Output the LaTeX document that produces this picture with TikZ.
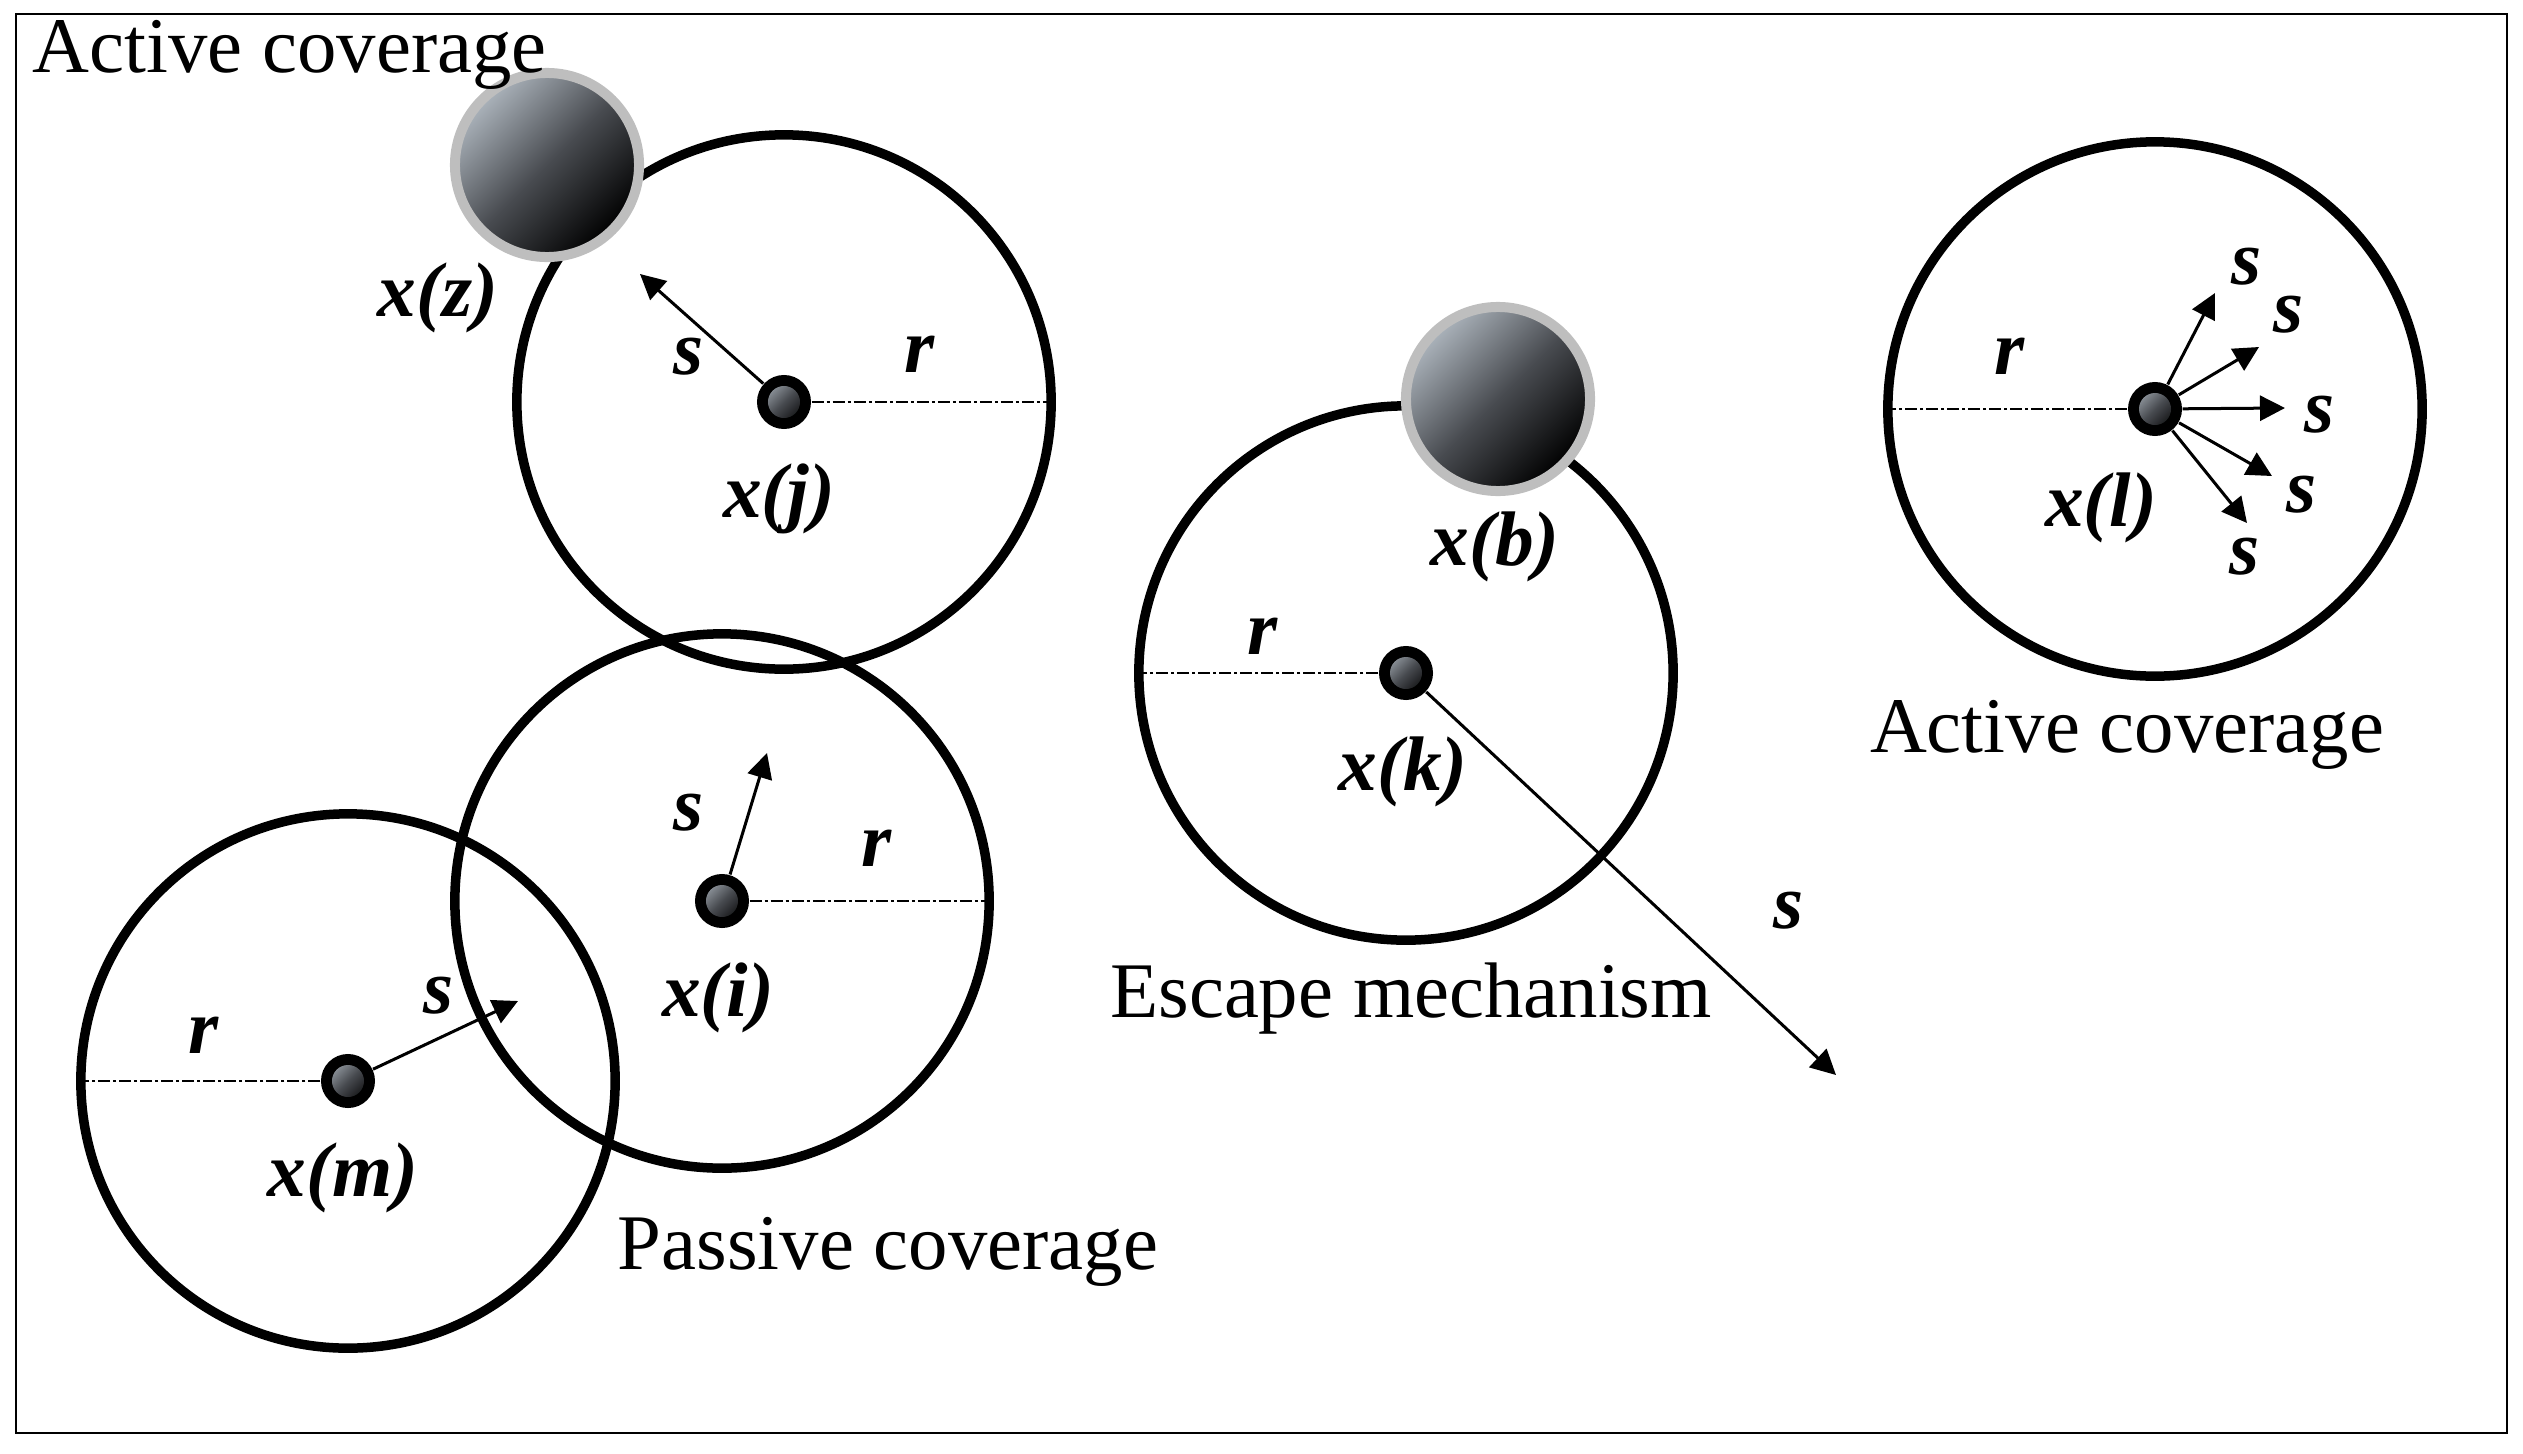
\documentclass[tikz,border=0pt]{standalone}
\usepackage{fontspec}
\setmainfont{Liberation Serif}
\usetikzlibrary{arrows.meta}
\definecolor{balltop}{RGB}{172,180,188}
\definecolor{ballmid}{RGB}{72,75,80}
\definecolor{ringgray}{RGB}{190,190,190}
\begin{document}
\begin{tikzpicture}[x=0.01cm,y=-0.01cm,
  covcircle/.style={circle,draw,line width=0.095cm,minimum size=5.34cm,inner sep=0},
  sensor/.style={circle,fill=black,minimum size=0.54cm,inner sep=0,
    path picture={\shade[top color=balltop,bottom color=black,middle color=ballmid,shading angle=45]
      (path picture bounding box.center) circle (0.16cm);}},
  bigball/.style={circle,draw=ringgray,line width=0.1cm,minimum size=1.84cm,inner sep=0,
    top color=balltop,bottom color=black,middle color=ballmid,shading angle=45},
  lab/.style={font=\fontsize{22}{26}\selectfont\bfseries\itshape,inner sep=0},
  txt/.style={font=\fontsize{22.4}{27}\selectfont,inner sep=0},
  sarrow/.style={line width=0.03cm,-{Triangle[length=0.25cm,width=0.25cm]}},
  radline/.style={line width=0.02cm,dash pattern=on 0.12cm off 0.03cm on 0.03cm off 0.03cm}
]
\useasboundingbox (0,0) rectangle (2523,1454);
\draw[line width=0.02cm] (16,14) rectangle (2507,1433);

% coverage circles
\node[covcircle] (cj) at (784,402) {};
\node[covcircle] (ci) at (722,901) {};
\node[covcircle] (cm) at (348,1081) {};
\node[covcircle] (ck) at (1406,673) {};
\node[covcircle] (cl) at (2155,409) {};

% sensors
\node[sensor] (nj) at (784,402) {};
\node[sensor] (ni) at (722,901) {};
\node[sensor] (nm) at (348,1081) {};
\node[sensor] (nk) at (1406,673) {};
\node[sensor] (nl) at (2155,409) {};

% radius lines
\draw[radline] (nj.east) -- (cj.east);
\draw[radline] (ni.east) -- (ci.east);
\draw[radline] (nm.west) -- (cm.west);
\draw[radline] (nk.west) -- (ck.west);
\draw[radline] (nl.west) -- (cl.west);

% big balls
\node[bigball] (bz) at (547,165) {};
\node[bigball] (bb) at (1498,399) {};

% arrow end points
\coordinate (tj) at (640,274);
\coordinate (ti) at (767,753);
\coordinate (tm) at (518,1001);
\coordinate (tk) at (1836,1075);
\coordinate (tl1) at (2215,293);
\coordinate (tl2) at (2259,347);
\coordinate (tl3) at (2285,408);
\coordinate (tl4) at (2272,476);
\coordinate (tl5) at (2247,523);

\draw[sarrow] (nj) -- (tj);
\draw[sarrow] (ni) -- (ti);
\draw[sarrow] (nm) -- (tm);
\draw[sarrow] (nk) -- (tk);
\draw[sarrow] (nl) -- (tl1);
\draw[sarrow] (nl) -- (tl2);
\draw[sarrow] (nl) -- (tl3);
\draw[sarrow] (nl) -- (tl4);
\draw[sarrow] (nl) -- (tl5);

% labels
\node[lab] (lxz) at (438,298) {x(z)};
\node[lab] (lsj) at (689,357) {s};
\node[lab] (lrj) at (920,354) {r};
\node[lab] (lxj) at (779,499) {x(j)};

\node[lab] (lsi) at (689,813) {s};
\node[lab] (lri) at (877,848) {r};
\node[lab] (lxi) at (718,998) {x(i)};

\node[lab] (lsm) at (439,996) {s};
\node[lab] (lrm) at (204,1035) {r};
\node[lab] (lxm) at (343,1178) {x(m)};

\node[lab] (lrk) at (1263,636) {r};
\node[lab] (lxk) at (1403,772) {x(k)};
\node[lab] (lxb) at (1495,547) {x(b)};
\node[lab] (lsk) at (1789,911) {s};

\node[lab] (lrl) at (2010,356) {r};
\node[lab] (lxl) at (2101,508) {x(l)};
\node[lab] (ls1) at (2247,267) {s};
\node[lab] (ls2) at (2289,315) {s};
\node[lab] (ls3) at (2320,415) {s};
\node[lab] (ls4) at (2302,495) {s};
\node[lab] (ls5) at (2245,557) {s};

% texts
\node[txt,anchor=base west] (ttop) at (32,72) {Active coverage};
\node[txt] (tright) at (2127,735) {Active coverage};
\node[txt] (tesc) at (1411,999) {Escape mechanism};
\node[txt] (tpas) at (888,1252) {Passive coverage};
\end{tikzpicture}
\end{document}
